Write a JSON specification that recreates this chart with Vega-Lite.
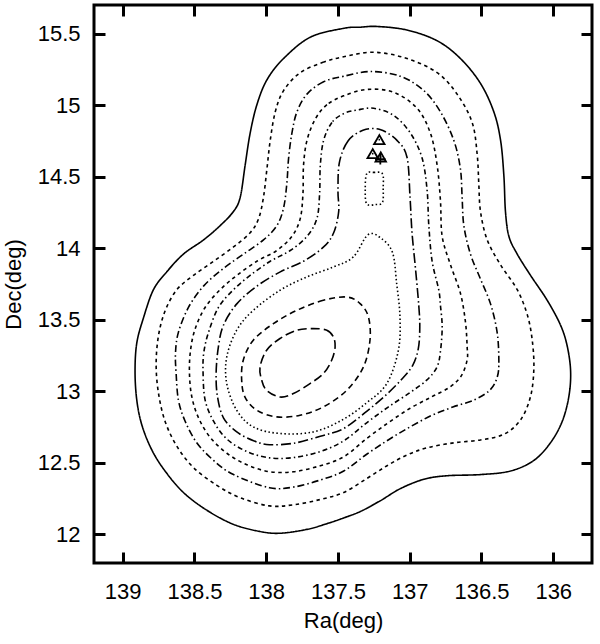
{
  "$schema": "https://vega.github.io/schema/vega-lite/v6.json",
  "width": 498,
  "height": 558,
  "autosize": {"type": "none"},
  "padding": {"left": 94, "top": 5, "right": 8, "bottom": 81},
  "config": {
    "view": {"stroke": "black", "strokeWidth": 3},
    "font": "Liberation Sans",
    "axis": {
      "grid": false, "domain": false, "tickColor": "black", "tickWidth": 3, "tickSize": 11, "offset": -11,
      "labelColor": "black", "labelFont": "Liberation Sans", "labelFontSize": 22,
      "titleColor": "black", "titleFont": "Liberation Sans", "titleFontSize": 22, "titleFontWeight": "normal"
    }
  },
  "datasets": {
    "contours": [
      {"c":1,"s":"solid","x":137.46,"y":15.537},{"c":1,"s":"solid","x":137.693,"y":15.475},{"c":1,"s":"solid","x":137.879,"y":15.326},{"c":1,"s":"solid","x":137.995,"y":15.177},{"c":1,"s":"solid","x":138.065,"y":15.003},{"c":1,"s":"solid","x":138.112,"y":14.804},{"c":1,"s":"solid","x":138.147,"y":14.58},{"c":1,"s":"solid","x":138.181,"y":14.357},{"c":1,"s":"solid","x":138.228,"y":14.257},{"c":1,"s":"solid","x":138.321,"y":14.158},{"c":1,"s":"solid","x":138.437,"y":14.058},{"c":1,"s":"solid","x":138.577,"y":13.959},{"c":1,"s":"solid","x":138.693,"y":13.835},{"c":1,"s":"solid","x":138.786,"y":13.71},{"c":1,"s":"solid","x":138.856,"y":13.511},{"c":1,"s":"solid","x":138.902,"y":13.337},{"c":1,"s":"solid","x":138.914,"y":13.139},{"c":1,"s":"solid","x":138.902,"y":12.94},{"c":1,"s":"solid","x":138.867,"y":12.766},{"c":1,"s":"solid","x":138.798,"y":12.592},{"c":1,"s":"solid","x":138.705,"y":12.443},{"c":1,"s":"solid","x":138.577,"y":12.293},{"c":1,"s":"solid","x":138.414,"y":12.169},{"c":1,"s":"solid","x":138.228,"y":12.07},{"c":1,"s":"solid","x":138.042,"y":12.02},{"c":1,"s":"solid","x":137.902,"y":12.008},{"c":1,"s":"solid","x":137.716,"y":12.035},{"c":1,"s":"solid","x":137.577,"y":12.075},{"c":1,"s":"solid","x":137.46,"y":12.115},{"c":1,"s":"solid","x":137.344,"y":12.16},{"c":1,"s":"solid","x":137.205,"y":12.235},{"c":1,"s":"solid","x":137.065,"y":12.32},{"c":1,"s":"solid","x":136.902,"y":12.385},{"c":1,"s":"solid","x":136.74,"y":12.41},{"c":1,"s":"solid","x":136.507,"y":12.418},{"c":1,"s":"solid","x":136.298,"y":12.443},{"c":1,"s":"solid","x":136.135,"y":12.517},{"c":1,"s":"solid","x":136.019,"y":12.641},{"c":1,"s":"solid","x":135.937,"y":12.791},{"c":1,"s":"solid","x":135.891,"y":12.965},{"c":1,"s":"solid","x":135.879,"y":13.139},{"c":1,"s":"solid","x":135.902,"y":13.313},{"c":1,"s":"solid","x":135.949,"y":13.462},{"c":1,"s":"solid","x":136.042,"y":13.636},{"c":1,"s":"solid","x":136.158,"y":13.81},{"c":1,"s":"solid","x":136.251,"y":13.959},{"c":1,"s":"solid","x":136.309,"y":14.083},{"c":1,"s":"solid","x":136.333,"y":14.257},{"c":1,"s":"solid","x":136.344,"y":14.506},{"c":1,"s":"solid","x":136.367,"y":14.754},{"c":1,"s":"solid","x":136.414,"y":14.953},{"c":1,"s":"solid","x":136.507,"y":15.152},{"c":1,"s":"solid","x":136.647,"y":15.326},{"c":1,"s":"solid","x":136.809,"y":15.45},{"c":1,"s":"solid","x":137.019,"y":15.525},{"c":1,"s":"solid","x":137.228,"y":15.55},{"c":1,"s":"solid","x":137.344,"y":15.545},

      {"c":2,"s":"dash","x":137.46,"y":15.338},{"c":2,"s":"dash","x":137.6,"y":15.301},{"c":2,"s":"dash","x":137.763,"y":15.227},{"c":2,"s":"dash","x":137.879,"y":15.102},{"c":2,"s":"dash","x":137.937,"y":14.953},{"c":2,"s":"dash","x":137.972,"y":14.754},{"c":2,"s":"dash","x":137.995,"y":14.555},{"c":2,"s":"dash","x":138.019,"y":14.357},{"c":2,"s":"dash","x":138.053,"y":14.207},{"c":2,"s":"dash","x":138.112,"y":14.108},{"c":2,"s":"dash","x":138.228,"y":14.009},{"c":2,"s":"dash","x":138.367,"y":13.909},{"c":2,"s":"dash","x":138.507,"y":13.81},{"c":2,"s":"dash","x":138.623,"y":13.71},{"c":2,"s":"dash","x":138.705,"y":13.561},{"c":2,"s":"dash","x":138.751,"y":13.387},{"c":2,"s":"dash","x":138.767,"y":13.188},{"c":2,"s":"dash","x":138.751,"y":12.989},{"c":2,"s":"dash","x":138.705,"y":12.791},{"c":2,"s":"dash","x":138.623,"y":12.617},{"c":2,"s":"dash","x":138.507,"y":12.467},{"c":2,"s":"dash","x":138.344,"y":12.343},{"c":2,"s":"dash","x":138.181,"y":12.256},{"c":2,"s":"dash","x":137.977,"y":12.199},{"c":2,"s":"dash","x":137.809,"y":12.207},{"c":2,"s":"dash","x":137.623,"y":12.244},{"c":2,"s":"dash","x":137.46,"y":12.293},{"c":2,"s":"dash","x":137.3,"y":12.39},{"c":2,"s":"dash","x":137.158,"y":12.48},{"c":2,"s":"dash","x":137.019,"y":12.555},{"c":2,"s":"dash","x":136.879,"y":12.605},{"c":2,"s":"dash","x":136.693,"y":12.64},{"c":2,"s":"dash","x":136.507,"y":12.66},{"c":2,"s":"dash","x":136.344,"y":12.7},{"c":2,"s":"dash","x":136.228,"y":12.8},{"c":2,"s":"dash","x":136.158,"y":12.965},{"c":2,"s":"dash","x":136.135,"y":13.163},{"c":2,"s":"dash","x":136.147,"y":13.362},{"c":2,"s":"dash","x":136.181,"y":13.536},{"c":2,"s":"dash","x":136.251,"y":13.71},{"c":2,"s":"dash","x":136.367,"y":13.884},{"c":2,"s":"dash","x":136.46,"y":14.058},{"c":2,"s":"dash","x":136.507,"y":14.257},{"c":2,"s":"dash","x":136.519,"y":14.456},{"c":2,"s":"dash","x":136.53,"y":14.655},{"c":2,"s":"dash","x":136.565,"y":14.879},{"c":2,"s":"dash","x":136.67,"y":15.077},{"c":2,"s":"dash","x":136.809,"y":15.227},{"c":2,"s":"dash","x":137.019,"y":15.326},{"c":2,"s":"dash","x":137.251,"y":15.37},

      {"c":3,"s":"dashdot","x":137.46,"y":15.202},{"c":3,"s":"dashdot","x":137.6,"y":15.164},{"c":3,"s":"dashdot","x":137.716,"y":15.077},{"c":3,"s":"dashdot","x":137.786,"y":14.953},{"c":3,"s":"dashdot","x":137.821,"y":14.804},{"c":3,"s":"dashdot","x":137.844,"y":14.63},{"c":3,"s":"dashdot","x":137.856,"y":14.456},{"c":3,"s":"dashdot","x":137.879,"y":14.282},{"c":3,"s":"dashdot","x":137.926,"y":14.158},{"c":3,"s":"dashdot","x":138.019,"y":14.058},{"c":3,"s":"dashdot","x":138.158,"y":13.959},{"c":3,"s":"dashdot","x":138.298,"y":13.859},{"c":3,"s":"dashdot","x":138.437,"y":13.735},{"c":3,"s":"dashdot","x":138.542,"y":13.586},{"c":3,"s":"dashdot","x":138.612,"y":13.412},{"c":3,"s":"dashdot","x":138.632,"y":13.27},{"c":3,"s":"dashdot","x":138.628,"y":13.13},{"c":3,"s":"dashdot","x":138.612,"y":12.94},{"c":3,"s":"dashdot","x":138.565,"y":12.791},{"c":3,"s":"dashdot","x":138.484,"y":12.641},{"c":3,"s":"dashdot","x":138.367,"y":12.517},{"c":3,"s":"dashdot","x":138.228,"y":12.418},{"c":3,"s":"dashdot","x":137.977,"y":12.326},{"c":3,"s":"dashdot","x":137.809,"y":12.331},{"c":3,"s":"dashdot","x":137.623,"y":12.38},{"c":3,"s":"dashdot","x":137.46,"y":12.443},{"c":3,"s":"dashdot","x":137.3,"y":12.56},{"c":3,"s":"dashdot","x":137.15,"y":12.66},{"c":3,"s":"dashdot","x":137.0,"y":12.75},{"c":3,"s":"dashdot","x":136.85,"y":12.83},{"c":3,"s":"dashdot","x":136.7,"y":12.89},{"c":3,"s":"dashdot","x":136.55,"y":12.94},{"c":3,"s":"dashdot","x":136.44,"y":13.01},{"c":3,"s":"dashdot","x":136.39,"y":13.1},{"c":3,"s":"dashdot","x":136.379,"y":13.213},{"c":3,"s":"dashdot","x":136.391,"y":13.412},{"c":3,"s":"dashdot","x":136.437,"y":13.611},{"c":3,"s":"dashdot","x":136.507,"y":13.785},{"c":3,"s":"dashdot","x":136.577,"y":13.959},{"c":3,"s":"dashdot","x":136.623,"y":14.158},{"c":3,"s":"dashdot","x":136.635,"y":14.357},{"c":3,"s":"dashdot","x":136.647,"y":14.555},{"c":3,"s":"dashdot","x":136.693,"y":14.754},{"c":3,"s":"dashdot","x":136.786,"y":14.953},{"c":3,"s":"dashdot","x":136.902,"y":15.102},{"c":3,"s":"dashdot","x":137.065,"y":15.202},{"c":3,"s":"dashdot","x":137.274,"y":15.235},

      {"c":4,"s":"dash","x":137.46,"y":15.065},{"c":4,"s":"dash","x":137.577,"y":15.003},{"c":4,"s":"dash","x":137.658,"y":14.903},{"c":4,"s":"dash","x":137.716,"y":14.754},{"c":4,"s":"dash","x":137.74,"y":14.58},{"c":4,"s":"dash","x":137.744,"y":14.381},{"c":4,"s":"dash","x":137.763,"y":14.207},{"c":4,"s":"dash","x":137.821,"y":14.083},{"c":4,"s":"dash","x":137.926,"y":13.984},{"c":4,"s":"dash","x":138.065,"y":13.909},{"c":4,"s":"dash","x":138.205,"y":13.81},{"c":4,"s":"dash","x":138.321,"y":13.71},{"c":4,"s":"dash","x":138.426,"y":13.586},{"c":4,"s":"dash","x":138.495,"y":13.437},{"c":4,"s":"dash","x":138.527,"y":13.29},{"c":4,"s":"dash","x":138.535,"y":13.13},{"c":4,"s":"dash","x":138.519,"y":12.965},{"c":4,"s":"dash","x":138.472,"y":12.815},{"c":4,"s":"dash","x":138.391,"y":12.679},{"c":4,"s":"dash","x":138.274,"y":12.567},{"c":4,"s":"dash","x":138.135,"y":12.487},{"c":4,"s":"dash","x":137.977,"y":12.438},{"c":4,"s":"dash","x":137.809,"y":12.438},{"c":4,"s":"dash","x":137.623,"y":12.48},{"c":4,"s":"dash","x":137.46,"y":12.542},{"c":4,"s":"dash","x":137.3,"y":12.67},{"c":4,"s":"dash","x":137.15,"y":12.78},{"c":4,"s":"dash","x":137.0,"y":12.88},{"c":4,"s":"dash","x":136.85,"y":12.96},{"c":4,"s":"dash","x":136.72,"y":13.03},{"c":4,"s":"dash","x":136.64,"y":13.11},{"c":4,"s":"dash","x":136.6,"y":13.22},{"c":4,"s":"dash","x":136.6,"y":13.313},{"c":4,"s":"dash","x":136.612,"y":13.487},{"c":4,"s":"dash","x":136.647,"y":13.686},{"c":4,"s":"dash","x":136.716,"y":13.884},{"c":4,"s":"dash","x":136.774,"y":14.083},{"c":4,"s":"dash","x":136.786,"y":14.332},{"c":4,"s":"dash","x":136.809,"y":14.58},{"c":4,"s":"dash","x":136.856,"y":14.804},{"c":4,"s":"dash","x":136.949,"y":14.978},{"c":4,"s":"dash","x":137.112,"y":15.09},{"c":4,"s":"dash","x":137.298,"y":15.11},

      {"c":5,"s":"dashdot2","x":137.46,"y":14.941},{"c":5,"s":"dashdot2","x":137.542,"y":14.879},{"c":5,"s":"dashdot2","x":137.6,"y":14.754},{"c":5,"s":"dashdot2","x":137.623,"y":14.58},{"c":5,"s":"dashdot2","x":137.628,"y":14.381},{"c":5,"s":"dashdot2","x":137.647,"y":14.207},{"c":5,"s":"dashdot2","x":137.716,"y":14.083},{"c":5,"s":"dashdot2","x":137.833,"y":13.984},{"c":5,"s":"dashdot2","x":137.972,"y":13.909},{"c":5,"s":"dashdot2","x":138.112,"y":13.81},{"c":5,"s":"dashdot2","x":138.228,"y":13.71},{"c":5,"s":"dashdot2","x":138.333,"y":13.586},{"c":5,"s":"dashdot2","x":138.402,"y":13.412},{"c":5,"s":"dashdot2","x":138.435,"y":13.27},{"c":5,"s":"dashdot2","x":138.44,"y":13.13},{"c":5,"s":"dashdot2","x":138.426,"y":12.94},{"c":5,"s":"dashdot2","x":138.367,"y":12.791},{"c":5,"s":"dashdot2","x":138.274,"y":12.666},{"c":5,"s":"dashdot2","x":138.135,"y":12.579},{"c":5,"s":"dashdot2","x":137.977,"y":12.535},{"c":5,"s":"dashdot2","x":137.809,"y":12.537},{"c":5,"s":"dashdot2","x":137.623,"y":12.579},{"c":5,"s":"dashdot2","x":137.46,"y":12.654},{"c":5,"s":"dashdot2","x":137.3,"y":12.78},{"c":5,"s":"dashdot2","x":137.15,"y":12.89},{"c":5,"s":"dashdot2","x":137.0,"y":12.99},{"c":5,"s":"dashdot2","x":136.88,"y":13.08},{"c":5,"s":"dashdot2","x":136.81,"y":13.17},{"c":5,"s":"dashdot2","x":136.786,"y":13.28},{"c":5,"s":"dashdot2","x":136.774,"y":13.45},{"c":5,"s":"dashdot2","x":136.786,"y":13.6},{"c":5,"s":"dashdot2","x":136.798,"y":13.71},{"c":5,"s":"dashdot2","x":136.844,"y":13.909},{"c":5,"s":"dashdot2","x":136.867,"y":14.158},{"c":5,"s":"dashdot2","x":136.879,"y":14.406},{"c":5,"s":"dashdot2","x":136.914,"y":14.63},{"c":5,"s":"dashdot2","x":136.995,"y":14.804},{"c":5,"s":"dashdot2","x":137.112,"y":14.928},{"c":5,"s":"dashdot2","x":137.251,"y":14.978},{"c":5,"s":"dashdot2","x":137.367,"y":14.966},

      {"c":6,"s":"longdashdot","x":137.326,"y":14.824},{"c":6,"s":"longdashdot","x":137.43,"y":14.75},{"c":6,"s":"longdashdot","x":137.49,"y":14.6},{"c":6,"s":"longdashdot","x":137.5,"y":14.4},{"c":6,"s":"longdashdot","x":137.495,"y":14.257},{"c":6,"s":"longdashdot","x":137.53,"y":14.108},{"c":6,"s":"longdashdot","x":137.6,"y":14.009},{"c":6,"s":"longdashdot","x":137.74,"y":13.909},{"c":6,"s":"longdashdot","x":137.902,"y":13.835},{"c":6,"s":"longdashdot","x":138.065,"y":13.735},{"c":6,"s":"longdashdot","x":138.205,"y":13.611},{"c":6,"s":"longdashdot","x":138.298,"y":13.462},{"c":6,"s":"longdashdot","x":138.333,"y":13.313},{"c":6,"s":"longdashdot","x":138.349,"y":13.13},{"c":6,"s":"longdashdot","x":138.34,"y":12.965},{"c":6,"s":"longdashdot","x":138.298,"y":12.815},{"c":6,"s":"longdashdot","x":138.205,"y":12.716},{"c":6,"s":"longdashdot","x":138.088,"y":12.654},{"c":6,"s":"longdashdot","x":137.977,"y":12.627},{"c":6,"s":"longdashdot","x":137.809,"y":12.637},{"c":6,"s":"longdashdot","x":137.623,"y":12.686},{"c":6,"s":"longdashdot","x":137.46,"y":12.74},{"c":6,"s":"longdashdot","x":137.3,"y":12.86},{"c":6,"s":"longdashdot","x":137.17,"y":12.97},{"c":6,"s":"longdashdot","x":137.06,"y":13.08},{"c":6,"s":"longdashdot","x":136.98,"y":13.18},{"c":6,"s":"longdashdot","x":136.94,"y":13.3},{"c":6,"s":"longdashdot","x":136.93,"y":13.45},{"c":6,"s":"longdashdot","x":136.937,"y":13.6},{"c":6,"s":"longdashdot","x":136.96,"y":13.859},{"c":6,"s":"longdashdot","x":136.984,"y":14.108},{"c":6,"s":"longdashdot","x":136.998,"y":14.357},{"c":6,"s":"longdashdot","x":137.019,"y":14.636},{"c":6,"s":"longdashdot","x":137.089,"y":14.754},{"c":6,"s":"longdashdot","x":137.207,"y":14.83},

      {"c":7,"s":"dot","x":137.29,"y":14.095},{"c":7,"s":"dot","x":137.393,"y":13.939},{"c":7,"s":"dot","x":137.532,"y":13.869},{"c":7,"s":"dot","x":137.718,"y":13.799},{"c":7,"s":"dot","x":137.904,"y":13.706},{"c":7,"s":"dot","x":138.09,"y":13.566},{"c":7,"s":"dot","x":138.206,"y":13.427},{"c":7,"s":"dot","x":138.275,"y":13.24},{"c":7,"s":"dot","x":138.275,"y":13.054},{"c":7,"s":"dot","x":138.206,"y":12.868},{"c":7,"s":"dot","x":138.09,"y":12.751},{"c":7,"s":"dot","x":137.904,"y":12.705},{"c":7,"s":"dot","x":137.672,"y":12.716},{"c":7,"s":"dot","x":137.47,"y":12.8},{"c":7,"s":"dot","x":137.3,"y":12.92},{"c":7,"s":"dot","x":137.16,"y":13.054},{"c":7,"s":"dot","x":137.079,"y":13.287},{"c":7,"s":"dot","x":137.068,"y":13.52},{"c":7,"s":"dot","x":137.091,"y":13.753},{"c":7,"s":"dot","x":137.12,"y":13.97},{"c":7,"s":"dot","x":137.2,"y":14.07},

      {"c":10,"s":"dot","x":137.3,"y":14.52},{"c":10,"s":"dot","x":137.25,"y":14.53},{"c":10,"s":"dot","x":137.19,"y":14.52},{"c":10,"s":"dot","x":137.185,"y":14.42},{"c":10,"s":"dot","x":137.19,"y":14.32},{"c":10,"s":"dot","x":137.24,"y":14.305},{"c":10,"s":"dot","x":137.3,"y":14.31},{"c":10,"s":"dot","x":137.31,"y":14.41},

      {"c":8,"s":"meddash","x":137.439,"y":13.659},{"c":8,"s":"meddash","x":137.602,"y":13.636},{"c":8,"s":"meddash","x":137.787,"y":13.566},{"c":8,"s":"meddash","x":137.95,"y":13.473},{"c":8,"s":"meddash","x":138.09,"y":13.357},{"c":8,"s":"meddash","x":138.16,"y":13.217},{"c":8,"s":"meddash","x":138.171,"y":13.077},{"c":8,"s":"meddash","x":138.148,"y":12.96},{"c":8,"s":"meddash","x":138.066,"y":12.868},{"c":8,"s":"meddash","x":137.927,"y":12.821},{"c":8,"s":"meddash","x":137.764,"y":12.833},{"c":8,"s":"meddash","x":137.602,"y":12.891},{"c":8,"s":"meddash","x":137.439,"y":13.007},{"c":8,"s":"meddash","x":137.323,"y":13.17},{"c":8,"s":"meddash","x":137.277,"y":13.357},{"c":8,"s":"meddash","x":137.288,"y":13.52},{"c":8,"s":"meddash","x":137.346,"y":13.613},

      {"c":9,"s":"longdash","x":137.672,"y":13.438},{"c":9,"s":"longdash","x":137.578,"y":13.427},{"c":9,"s":"longdash","x":137.532,"y":13.38},{"c":9,"s":"longdash","x":137.52,"y":13.31},{"c":9,"s":"longdash","x":137.544,"y":13.217},{"c":9,"s":"longdash","x":137.602,"y":13.124},{"c":9,"s":"longdash","x":137.695,"y":13.054},{"c":9,"s":"longdash","x":137.811,"y":12.984},{"c":9,"s":"longdash","x":137.904,"y":12.96},{"c":9,"s":"longdash","x":137.997,"y":13.007},{"c":9,"s":"longdash","x":138.031,"y":13.077},{"c":9,"s":"longdash","x":138.043,"y":13.17},{"c":9,"s":"longdash","x":137.997,"y":13.287},{"c":9,"s":"longdash","x":137.904,"y":13.369},{"c":9,"s":"longdash","x":137.787,"y":13.427}
    ],
    "points": [
      {"kind":"tri","x":137.212,"y":14.759},
      {"kind":"tri","x":137.258,"y":14.661},
      {"kind":"tri","x":137.202,"y":14.638},
      {"kind":"plus","x":137.205,"y":14.622}
    ]
  },
  "layer": [
    {
      "data": {"name": "contours"},
      "mark": {"type": "line", "interpolate": "cardinal-closed", "color": "black", "strokeWidth": 1.6},
      "encoding": {
        "x": {"field": "x", "type": "quantitative",
              "scale": {"domain": [135.73, 139.2], "reverse": true, "nice": false, "zero": false},
              "axis": {"orient": "bottom", "values": [139, 138.5, 138, 137.5, 137, 136.5, 136], "format": "~g", "title": "Ra(deg)", "labelPadding": 18, "titlePadding": 8}},
        "y": {"field": "y", "type": "quantitative",
              "scale": {"domain": [11.8, 15.7], "nice": false, "zero": false},
              "axis": {"orient": "left", "values": [12, 12.5, 13, 13.5, 14, 14.5, 15, 15.5], "format": "~g", "title": "Dec(deg)", "labelPadding": 14, "titlePadding": 12}},
        "detail": {"field": "c", "type": "nominal"},
        "strokeDash": {"field": "s", "type": "nominal",
              "scale": {"domain": ["solid", "dash", "dashdot", "dashdot2", "longdashdot", "dot", "meddash", "longdash"],
                        "range": [[1, 0], [3.5, 3.5], [7, 3, 1.5, 3], [5, 3, 1.5, 3], [10, 3, 1.5, 3], [1.5, 2.5], [6, 4], [9, 4]]},
              "legend": null},
        "order": {"value": null}
      }
    },
    {
      "data": {"name": "points"},
      "mark": {"type": "point", "filled": false, "color": "black", "strokeWidth": 1.8, "size": 110, "opacity": 1},
      "encoding": {
        "x": {"field": "x", "type": "quantitative",
              "scale": {"domain": [135.73, 139.2], "reverse": true, "nice": false, "zero": false},
              "axis": {"orient": "top", "values": [139, 138.5, 138, 137.5, 137, 136.5, 136], "labels": false, "title": null}},
        "y": {"field": "y", "type": "quantitative",
              "scale": {"domain": [11.8, 15.7], "nice": false, "zero": false},
              "axis": {"orient": "right", "values": [12, 12.5, 13, 13.5, 14, 14.5, 15, 15.5], "labels": false, "title": null}},
        "shape": {"field": "kind", "type": "nominal",
              "scale": {"domain": ["tri", "plus"], "range": ["triangle-up", "M-1,0L1,0M0,-1L0,1"]},
              "legend": null}
      }
    },
    {
      "data": {"name": "points"},
      "transform": [{"filter": "datum.kind === 'tri'"}],
      "mark": {"type": "circle", "color": "black", "size": 3, "opacity": 1},
      "encoding": {
        "x": {"field": "x", "type": "quantitative", "axis": null, "scale": {"domain": [135.73, 139.2], "reverse": true, "nice": false, "zero": false}},
        "y": {"field": "y", "type": "quantitative", "axis": null, "scale": {"domain": [11.8, 15.7], "nice": false, "zero": false}}
      }
    }
  ],
  "resolve": {"axis": {"x": "independent", "y": "independent"}}
}
